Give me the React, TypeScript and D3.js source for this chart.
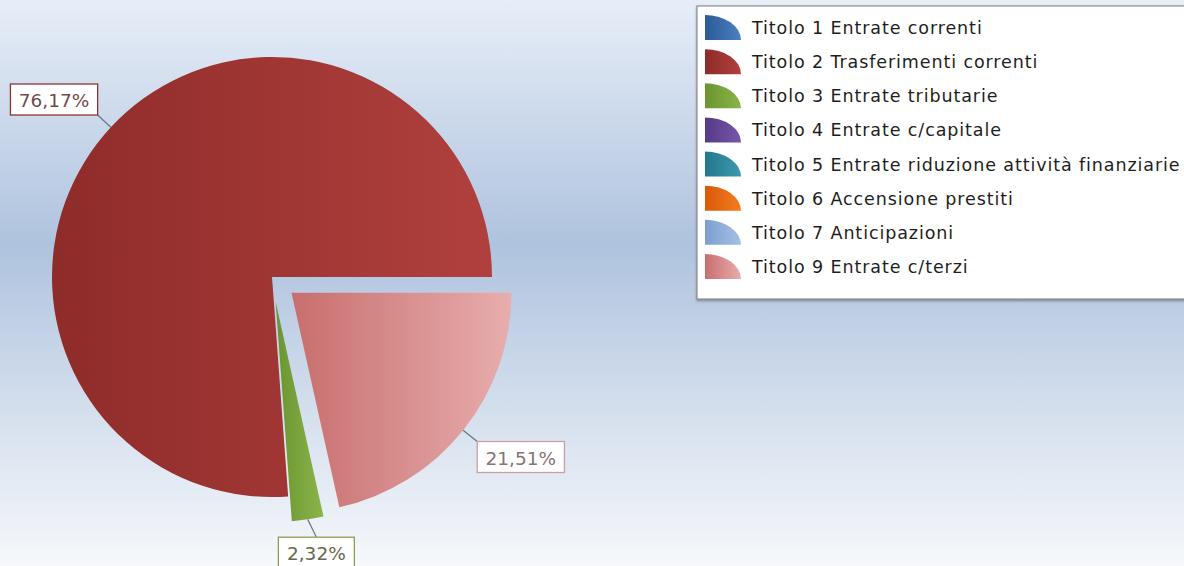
import React from "react";
import * as d3 from "d3";

const categories = [
  "Titolo 1 Entrate correnti",
  "Titolo 2 Trasferimenti correnti",
  "Titolo 3 Entrate tributarie",
  "Titolo 4 Entrate c/capitale",
  "Titolo 5 Entrate riduzione attività finanziarie",
  "Titolo 6 Accensione prestiti",
  "Titolo 7 Anticipazioni",
  "Titolo 9 Entrate c/terzi",
];
const values = [0, 76.17, 2.32, 0, 0, 0, 0, 21.51];
const explodedCategories = ["Titolo 3 Entrate tributarie", "Titolo 9 Entrate c/terzi"];

const colorsDark = ["#2c5a96", "#8e2c2a", "#6a9430", "#553a86", "#23788e", "#d85a08", "#7d9fd0", "#c86e6e"];
const colorsLight = ["#4a80c2", "#b0403d", "#8ab54a", "#7656a8", "#3c98ae", "#f47c20", "#a6c0e6", "#e8adad"];
const labelStroke = ["#3a6aa8", "#8e3333", "#8aa055", "#6a4a98", "#2f8aa0", "#e86c10", "#8fb0dc", "#c9a0a0"];
const labelText = ["#445", "#6e4c50", "#68684c", "#554", "#455", "#654", "#556", "#8a7272"];

const W = 1184;
const H = 566;

export default function App() {
  const cx = 272;
  const cy = 277;
  const r = 220;
  const explode = 25;

  const pie = d3
    .pie<number>()
    .sort(null)
    .value((d) => d)
    .startAngle(Math.PI / 2)
    .endAngle(Math.PI / 2 - 2 * Math.PI);
  const arcs = pie(values);
  const arcGen = d3.arc<d3.PieArcDatum<number>>().innerRadius(0).outerRadius(r);

  const legendY = d3
    .scaleLinear()
    .domain([0, categories.length - 1])
    .range([28, 267]);

  const iconPath = (w: number, h: number) => `M0,${h} L0,0 A${w},${h} 0 0 1 ${w},${h} Z`;

  return (
    <svg
      width={W}
      height={H}
      style={{ position: "absolute", left: 0, top: 0 }}
      xmlns="http://www.w3.org/2000/svg"
    >
      <defs>
        <linearGradient id="bg" x1="0" y1="0" x2="0" y2="1">
          <stop offset="0" stopColor="#e7eef8" />
          <stop offset="0.43" stopColor="#afc3de" />
          <stop offset="0.78" stopColor="#dbe4f0" />
          <stop offset="1" stopColor="#f6f8fb" />
        </linearGradient>
        {categories.map((c, i) => (
          <linearGradient key={c} id={`g${i}`} x1="0" y1="0" x2="1" y2="0">
            <stop offset="0" stopColor={colorsDark[i]} />
            <stop offset="1" stopColor={colorsLight[i]} />
          </linearGradient>
        ))}
        <filter id="sh" x="-5%" y="-5%" width="110%" height="110%">
          <feDropShadow dx="0" dy="1.5" stdDeviation="0.8" floodColor="#555" floodOpacity="0.6" />
        </filter>
      </defs>
      <rect x={0} y={0} width={W} height={H} fill="url(#bg)" />

      {arcs.map((a, i) => {
        if (values[i] <= 0) return null;
        const mid = (a.startAngle + a.endAngle) / 2;
        const dx = Math.sin(mid);
        const dy = -Math.cos(mid);
        const off = explodedCategories.includes(categories[i]) ? explode : 0;
        const ox = cx + dx * off;
        const oy = cy + dy * off;
        return (
          <path
            key={categories[i]}
            d={arcGen(a) || ""}
            transform={`translate(${ox},${oy})`}
            fill={`url(#g${i})`}
          />
        );
      })}

      {arcs.map((a, i) => {
        if (values[i] <= 0) return null;
        const mid = (a.startAngle + a.endAngle) / 2;
        const dx = Math.sin(mid);
        const dy = -Math.cos(mid);
        const off = explodedCategories.includes(categories[i]) ? explode : 0;
        const ox = cx + dx * off;
        const oy = cy + dy * off;
        const x1 = ox + dx * r;
        const y1 = oy + dy * r;
        const x2 = ox + dx * (r + 18);
        const y2 = oy + dy * (r + 18);
        const label = values[i].toFixed(2).replace(".", ",") + "%";
        const bw = label.length * 11.2 + 20;
        const bh = 31;
        const bottomCentered = dy > 0.3 && Math.abs(dx) <= 0.3;
        const bx = dx < -0.3 ? x2 - bw : dx > 0.3 ? x2 : x2 - bw / 2 + 6;
        const by = dy < -0.3 ? y2 - bh : dy > 0.3 ? y2 : y2 - bh / 2;
        return (
          <g key={"l" + categories[i]}>
            <line x1={x1} y1={y1} x2={x2 + (bottomCentered ? 6 : 0)} y2={y2} stroke="#6a7580" strokeWidth={1.2} />
            <rect x={bx} y={by} width={bw} height={bh} fill="#ffffff" stroke={labelStroke[i]} strokeWidth={1.3} />
            <text
              x={bx + bw / 2}
              y={by + bh / 2 + 1}
              textAnchor="middle"
              dominantBaseline="central"
              fontFamily="DejaVu Sans"
              fontSize={18.5}
              fill={labelText[i]}
            >
              {label}
            </text>
          </g>
        );
      })}

      <g>
        <rect x={697} y={6} width={W - 697 + 10} height={293} fill="#ffffff" stroke="#8a9098" strokeWidth={1.2} filter="url(#sh)" />
        {categories.map((c, i) => {
          const y = legendY(i);
          return (
            <g key={"lg" + c} transform={`translate(705,${y})`}>
              <path d={iconPath(36, 25)} transform="translate(0,-13)" fill={`url(#g${i})`} />
              <text
                x={47}
                y={0}
                dominantBaseline="central"
                fontFamily="DejaVu Sans"
                fontSize={17.5}
                letterSpacing={0.9}
                fill="#1e1e1e"
              >
                {c}
              </text>
            </g>
          );
        })}
      </g>
    </svg>
  );
}
